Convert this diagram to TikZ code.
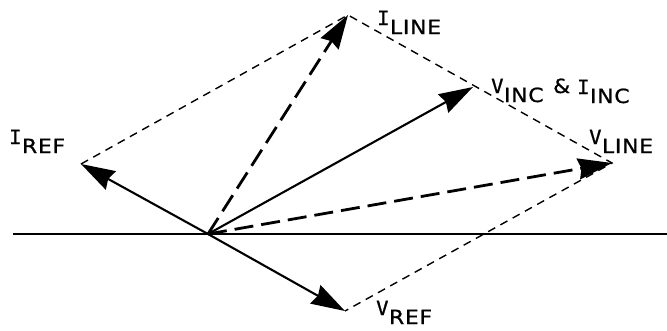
\documentclass[tikz,border=0pt]{standalone}
\usepackage{fontspec}
\usetikzlibrary{arrows.meta}
\newfontfamily\lblfont[FakeStretch=1.12,LetterSpace=4,FakeBold=1]{DejaVu Sans}
\newfontfamily\lblmono[FakeStretch=1.05,FakeBold=1]{DejaVu Sans Mono}
\newcommand{\vlab}[2]{{\lblmono #1}\kern0.5pt\raisebox{-9pt}{\lblfont #2}}
\tikzset{
  vec/.style={line width=2.1pt, -{Stealth[length=34pt,width=21pt,inset=3pt]}},
  dvec/.style={vec, line width=2.8pt, dash pattern=on 19pt off 8pt},
  guide/.style={line width=1.4pt, dash pattern=on 8pt off 6pt},
  axis/.style={line width=1.7pt},
  lab/.style={anchor=base west, inner sep=0pt, font=\fontsize{19.5pt}{20pt}\selectfont}
}
\begin{document}
\begin{tikzpicture}[x=1pt,y=-1pt]
\useasboundingbox (0,0) rectangle (667,330);
\coordinate (O) at (208,234);
\coordinate (Iref) at (81,164);
\coordinate (Vref) at (345,311);
\coordinate (Iline) at (348,15);
\coordinate (Vinc) at (473,87);
\coordinate (Vline) at (612,163);
\coordinate (axL) at (13,234);
\coordinate (axR) at (667,234);
% axis
\draw[axis] (axL) -- (axR);
% dashed parallelogram
\draw[guide] (Iref) -- (Iline) -- (Vline) -- (Vref);
% vectors
\draw[vec] (O) -- (Iref);
\draw[vec] (O) -- (Vref);
\draw[vec] (O) -- (Vinc);
\draw[dvec] (O) -- (Iline);
\draw[dvec] (O) -- (Vline);
% labels
\node[lab] (lIline) at (377,25) {\vlab{I}{LINE}};
\node[lab] (lVinc) at (491,93) {\vlab{V}{INC}};
\node[lab] (lamp) at (553,93) {\lblfont\&};
\node[lab] (lIinc) at (577,94) {\vlab{I}{INC}};
\node[lab] (lVline) at (589,144) {\vlab{V}{LINE}};
\node[lab] (lIref) at (9,144) {\vlab{I}{REF}};
\node[lab] (lVref) at (376,315) {\vlab{V}{REF}};
\end{tikzpicture}
\end{document}
